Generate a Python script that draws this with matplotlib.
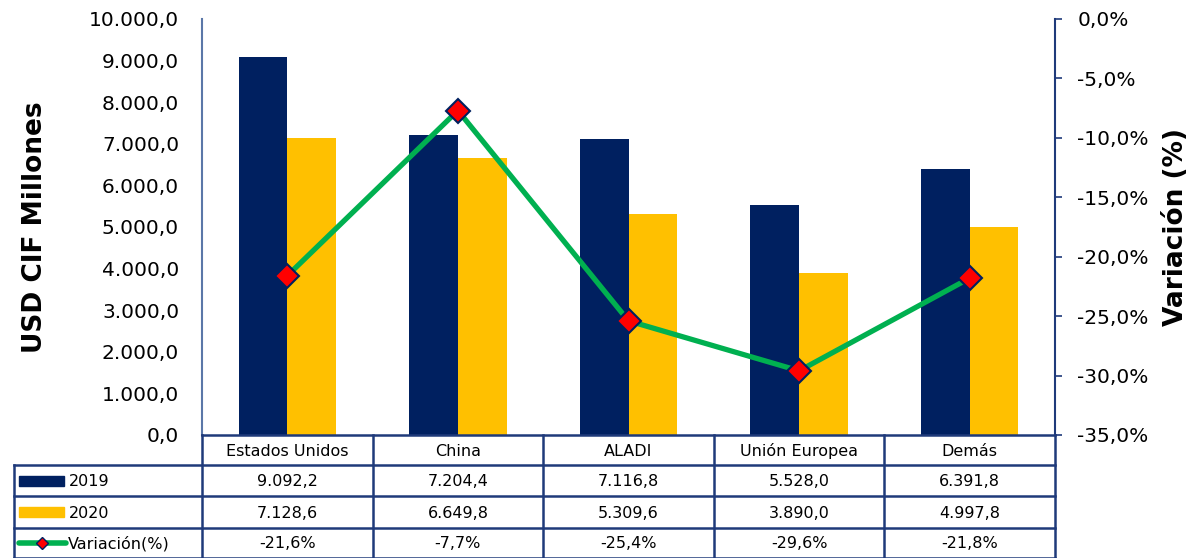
import matplotlib
matplotlib.use("Agg")
import matplotlib.pyplot as plt
import numpy as np
from matplotlib.patches import Rectangle

categories = ["Estados Unidos", "China", "ALADI", "Unión Europea", "Demás"]
v2019 = [9092.2, 7204.4, 7116.8, 5528.0, 6391.8]
v2020 = [7128.6, 6649.8, 5309.6, 3890.0, 4997.8]
variacion = [-21.6, -7.7, -25.4, -29.6, -21.8]
series_labels = ["2019", "2020", "Variación(%)"]

NAVY = "#002060"
GOLD = "#FFC000"
GREEN = "#00B050"
RED = "#FF0000"
BORDER = "#1F3A7A"

plt.rcParams["font.family"] = ["DejaVu Sans"]

W, H = 1196, 558
fig = plt.figure(figsize=(W / 100, H / 100), dpi=100)

def fx(px):
    return px / W

def fy(py):
    return 1 - py / H

def es_num(v):
    return f"{v:,.1f}".replace(",", "X").replace(".", ",").replace("X", ".")

L, R, T, B = 202, 1055, 19, 435
ax = fig.add_axes([fx(L), fy(B), fx(R - L), fy(T) - fy(B)])
x = np.arange(len(categories))
bw = 0.285
ax.bar(x - bw / 2, v2019, bw, color=NAVY, zorder=2)
ax.bar(x + bw / 2, v2020, bw, color=GOLD, zorder=2)
ax.set_xlim(-0.5, len(categories) - 0.5)
ax.set_ylim(0, 10000)
yt = np.arange(0, 10001, 1000)
ax.set_yticks(yt)
ax.set_yticklabels([es_num(v) for v in yt], fontsize=14.5)
ax.tick_params(axis="y", length=0, pad=16.5)
ax.set_xticks([])
for s in ["top", "right", "bottom"]:
    ax.spines[s].set_visible(False)
ax.spines["left"].set_color("#5B77A8")
ax.spines["left"].set_linewidth(1.5)
ax.set_ylabel("USD CIF Millones", fontsize=19, fontweight="bold")
ax.yaxis.set_label_coords(-0.1805, 0.5)

ax2 = ax.twinx()
ax2.plot(x, variacion, color=GREEN, lw=3.8, marker="D", markersize=12,
         markerfacecolor=RED, markeredgecolor=NAVY, markeredgewidth=1.5, zorder=3)
ax2.set_ylim(-35, 0)
rt = np.arange(-35, 0.1, 5)
ax2.set_yticks(rt)
ax2.set_yticklabels([f"{v:.1f}%".replace(".", ",") for v in rt], fontsize=14.5)
ax2.tick_params(axis="y", length=5, width=1.2, color=BORDER, direction="out", pad=11)
for s in ["top", "left", "bottom"]:
    ax2.spines[s].set_visible(False)
ax2.spines["right"].set_color(BORDER)
ax2.spines["right"].set_linewidth(1.5)
ax2.set_ylabel("Variación (%)", fontsize=19, fontweight="bold")
ax2.yaxis.set_label_coords(1.127, 0.5)

# data table
tax = fig.add_axes([0, 0, 1, 1], facecolor="none")
tax.set_xlim(0, W)
tax.set_ylim(H, 0)
tax.axis("off")

rows_y = [435, 465, 496, 528, 558]
left_x = 14
col_x = [L + (R - L) * i / len(categories) for i in range(len(categories) + 1)]
lw = 1.8
tax.plot([L, R], [rows_y[0]] * 2, color=BORDER, lw=lw)
for yy in rows_y[1:]:
    tax.plot([left_x, R], [yy, yy], color=BORDER, lw=lw)
for xx in col_x:
    tax.plot([xx, xx], [rows_y[0], H], color=BORDER, lw=lw)
tax.plot([left_x, left_x], [rows_y[1], H], color=BORDER, lw=lw)

fs = 11.5
for i, c in enumerate(categories):
    cx = (col_x[i] + col_x[i + 1]) / 2
    tax.text(cx, (rows_y[0] + rows_y[1]) / 2 + 1, c, ha="center", va="center", fontsize=fs)
    tax.text(cx, (rows_y[1] + rows_y[2]) / 2 + 1, es_num(v2019[i]), ha="center", va="center", fontsize=fs)
    tax.text(cx, (rows_y[2] + rows_y[3]) / 2 + 1, es_num(v2020[i]), ha="center", va="center", fontsize=fs)
    tax.text(cx, (rows_y[3] + rows_y[4]) / 2 + 1, f"{variacion[i]:.1f}%".replace(".", ","),
             ha="center", va="center", fontsize=fs)

for k, (color, lab) in enumerate(zip([NAVY, GOLD], series_labels[:2])):
    ym = (rows_y[k + 1] + rows_y[k + 2]) / 2
    tax.add_patch(Rectangle((19, ym - 5), 45, 10, color=color))
    tax.text(69, ym + 1, lab, ha="left", va="center", fontsize=fs)
ym = (rows_y[3] + rows_y[4]) / 2
tax.plot([19, 66], [ym, ym], color=GREEN, lw=4, solid_capstyle="round")
tax.plot([42], [ym], marker="D", markersize=6, markerfacecolor=RED, markeredgecolor=NAVY, markeredgewidth=1)
tax.text(68, ym + 1, series_labels[2], ha="left", va="center", fontsize=fs)

fig.savefig("out.png", dpi=100)
